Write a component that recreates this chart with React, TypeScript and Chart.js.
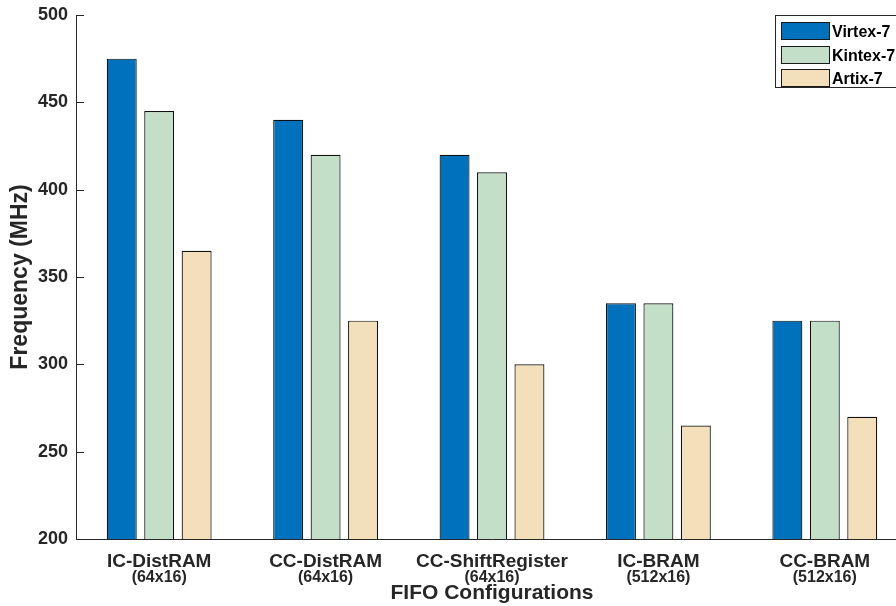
import React, { useEffect, useRef } from "react";
import { Chart, registerables } from "chart.js";

Chart.register(...registerables);

const categories = ["IC-DistRAM", "CC-DistRAM", "CC-ShiftRegister", "IC-BRAM", "CC-BRAM"];
const sizes = ["(64x16)", "(64x16)", "(64x16)", "(512x16)", "(512x16)"];
const seriesNames = ["Virtex-7", "Kintex-7", "Artix-7"];
const virtex = [475, 440, 420, 335, 325];
const kintex = [445, 420, 410, 335, 325];
const artix = [365, 325, 300, 265, 270];
const yMin = 200;
const yMax = 500;
const yStep = 50;

const colors = ["#0072BD", "#C3DFC7", "#F3DFBA"];
const FONT = "'Liberation Sans', Arial, Helvetica, sans-serif";
const INK = "#262626";

const overlayPlugin = {
  id: "overlay",
  afterDatasetsDraw(chart: any) {
    const ctx = chart.ctx;
    const y = chart.scales.y;
    const x = chart.scales.x;
    const area = chart.chartArea;
    ctx.save();
    ctx.strokeStyle = INK;
    ctx.lineWidth = 1;
    y.ticks.forEach((t: any) => {
      const py = Math.round(y.getPixelForValue(t.value)) + 0.5;
      ctx.beginPath();
      ctx.moveTo(area.left, py);
      ctx.lineTo(area.left + 8, py);
      ctx.stroke();
    });
    ctx.fillStyle = INK;
    ctx.textAlign = "center";
    ctx.textBaseline = "alphabetic";
    categories.forEach((c, i) => {
      const px = x.getPixelForValue(i);
      ctx.font = `bold 19px ${FONT}`;
      ctx.fillText(c, px, area.bottom + 28);
      ctx.font = `bold 16px ${FONT}`;
      ctx.fillText(sizes[i], px, area.bottom + 43);
    });
    ctx.restore();
  },
  afterDraw(chart: any) {
    const ctx = chart.ctx;
    const area = chart.chartArea;
    ctx.save();
    const boxL = 775;
    const boxT = Math.round(area.top);
    const boxR = area.right - 3;
    const boxB = boxT + 72;
    ctx.fillStyle = "#ffffff";
    ctx.fillRect(boxL, boxT, boxR - boxL, boxB - boxT);
    ctx.strokeStyle = INK;
    ctx.lineWidth = 1;
    ctx.strokeRect(boxL + 0.5, boxT + 0.5, boxR - boxL, boxB - boxT);
    chart.data.datasets.forEach((ds: any, i: number) => {
      const top = Math.round(boxT + 7 + i * 23.7);
      ctx.fillStyle = ds.backgroundColor;
      ctx.fillRect(781, top, 48, 17);
      ctx.strokeStyle = "#1a1a1a";
      ctx.strokeRect(781.5, top + 0.5, 48, 17);
      ctx.fillStyle = "#000000";
      ctx.font = `bold 16px ${FONT}`;
      ctx.textAlign = "left";
      ctx.textBaseline = "alphabetic";
      ctx.fillText(ds.label, 832, top + 14.5);
    });
    ctx.restore();
  },
};

export default function App() {
  const ref = useRef<HTMLCanvasElement | null>(null);
  useEffect(() => {
    if (!ref.current) return;
    const datasets = [virtex, kintex, artix].map((d, i) => ({
      label: seriesNames[i],
      data: d,
      backgroundColor: colors[i],
      borderColor: "#111111",
      borderWidth: 1.2,
      categoryPercentage: 0.675,
      barPercentage: 0.8,
    }));
    const chart = new Chart(ref.current, {
      type: "bar",
      data: { labels: categories, datasets },
      options: {
        animation: false,
        responsive: false,
        layout: { padding: { top: 15, left: 0, right: 12, bottom: 0 } },
        plugins: { legend: { display: false }, tooltip: { enabled: false } },
        scales: {
          x: {
            grid: { display: false, drawTicks: false },
            border: { display: true, color: INK, width: 1 },
            ticks: { display: false },
            title: {
              display: true,
              text: "FIFO Configurations",
              color: INK,
              font: { family: FONT, size: 21, weight: "bold" },
              padding: { top: 0, bottom: 0 },
            },
            afterFit(scale: any) {
              scale.height = 67;
              scale.paddingLeft = 0;
              scale.paddingRight = 0;
            },
          },
          y: {
            min: yMin,
            max: yMax,
            grid: { display: false, drawTicks: false },
            border: { display: true, color: INK, width: 1 },
            ticks: {
              stepSize: yStep,
              color: INK,
              padding: 8,
              font: { family: FONT, size: 18, weight: "bold" },
            },
            title: {
              display: true,
              text: "Frequency (MHz)",
              color: INK,
              font: { family: FONT, size: 23, weight: "bold" },
              padding: { top: 7, bottom: 0 },
            },
            afterFit(scale: any) {
              scale.width = 76;
              scale.paddingTop = 0;
              scale.paddingBottom = 0;
            },
          },
        },
      },
      plugins: [overlayPlugin],
    });
    return () => chart.destroy();
  }, []);
  return (
    <div
      style={{
        position: "fixed",
        left: 0,
        top: 0,
        width: 896,
        height: 606,
        overflow: "hidden",
        background: "#fff",
      }}
    >
      <canvas ref={ref} width={920} height={606} style={{ display: "block" }} />
    </div>
  );
}
